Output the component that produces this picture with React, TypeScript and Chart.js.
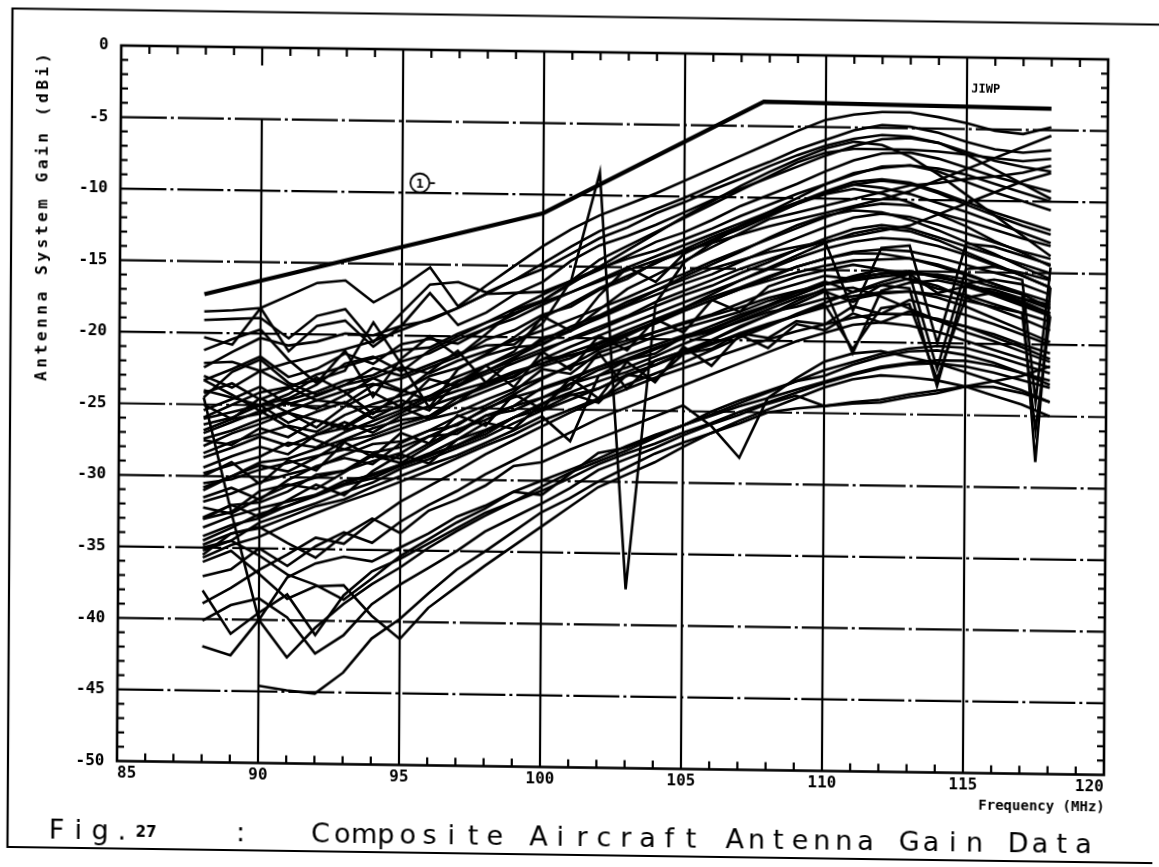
import React, { useEffect, useRef } from "react";
import { Chart, registerables } from "chart.js";

Chart.register(...registerables);

// Frequencies (MHz) of the measured points
const FREQ = [88, 89, 90, 91, 92, 93, 94, 95, 96, 97, 98, 99, 100, 101, 102, 103, 104, 105, 106, 107, 108, 109, 110, 111, 112, 113, 114, 115, 116, 117, 118];
const FREQ_D = [88, 89, 90, 91, 92, 93, 94, 95, 96, 97, 98, 99, 100, 101, 102, 103, 104, 105, 106, 107, 108, 109, 110, 111, 112, 113, 114, 115, 116, 117, 117.5, 118];

// Limit line (1)
const LIMIT_FREQ = [88, 100, 107.8, 118];
const LIMIT_GAIN = [-17.3, -11.3, -3.3, -3.5];

// Tick values
const X_TICKS = [85, 90, 95, 100, 105, 110, 115, 120];
const Y_TICKS = [0, -5, -10, -15, -20, -25, -30, -35, -40, -45, -50];

// Antenna gain curves (dBi)
const a1 = [-18.5, -18.4, -18.2, -17.3, -16.4, -16.2, -17.7, -16.6, -15.2, -17.9, -16.4, -15.0, -13.6, -12.4, -11.4, -10.6, -9.8, -8.9, -8.0, -7.1, -6.2, -5.3, -4.5, -4.1, -3.9, -3.9, -4.2, -4.6, -5.1, -5.3, -4.8];
const a2 = [-19.1, -19.0, -18.9, -20.3, -18.7, -18.2, -20.5, -18.4, -16.4, -16.2, -16.9, -16.0, -14.8, -13.6, -12.5, -11.7, -10.9, -10.1, -9.2, -8.3, -7.5, -6.6, -5.9, -5.2, -4.8, -4.9, -5.3, -5.9, -6.4, -6.6, -6.4];
const a3 = [-20.3, -20.8, -18.2, -21.2, -19.4, -19.0, -20.8, -19.3, -17.0, -19.2, -18.3, -17.0, -16.1, -14.6, -13.5, -12.8, -12.0, -11.1, -10.2, -9.4, -8.6, -7.8, -7.0, -6.3, -5.8, -5.7, -6.0, -6.6, -7.2, -7.6, -7.9];
const a4 = [-21.2, -20.4, -19.7, -21.8, -23.4, -21.1, -24.3, -21.6, -20.0, -21.4, -19.8, -18.1, -17.4, -16.1, -15.2, -14.2, -13.2, -12.5, -11.6, -10.6, -9.8, -9.0, -8.1, -7.3, -6.8, -6.7, -7.1, -7.7, -8.3, -8.8, -9.3];
const a5 = [-22.4, -21.3, -20.3, -20.8, -20.5, -19.9, -20.0, -19.3, -18.9, -18.0, -17.0, -16.9, -16.8, -16.0, -15.1, -14.4, -13.8, -13.0, -12.2, -11.3, -10.5, -9.7, -9.0, -8.3, -7.7, -7.6, -8.0, -8.7, -9.4, -10.0, -10.6];
const a6 = [-22.1, -22.0, -22.6, -23.6, -23.2, -22.5, -19.1, -22.0, -25.0, -22.3, -21.2, -20.0, -18.6, -17.6, -16.5, -15.6, -14.7, -13.7, -12.8, -12.0, -11.2, -10.3, -9.5, -8.8, -8.6, -8.8, -9.4, -10.1, -10.8, -11.4, -12.0];
const a7 = [-23.3, -22.5, -21.6, -23.0, -22.4, -21.3, -22.0, -20.6, -20.2, -20.5, -19.4, -18.7, -17.7, -16.8, -15.9, -15.0, -14.2, -13.4, -12.6, -11.8, -11.0, -10.3, -9.6, -9.0, -9.2, -9.6, -10.2, -10.8, -11.5, -12.2, -12.9];

const b1 = [-24.5, -22.7, -21.8, -23.4, -24.2, -23.5, -22.3, -22.8, -22.0, -21.2, -20.6, -20.5, -19.0, -16.0, -8.4, -37.5, -17.5, -14.6, -13.2, -12.0, -11.2, -10.4, -9.6, -9.0, -8.7, -8.9, -9.5, -10.3, -11.0, -11.7, -12.3];
const b2 = [-25.4, -24.6, -23.7, -24.9, -24.3, -23.5, -23.0, -22.2, -22.6, -21.7, -21.0, -20.2, -19.5, -18.7, -17.9, -17.1, -16.2, -15.4, -14.5, -13.7, -12.9, -12.1, -11.3, -10.6, -10.3, -10.4, -10.9, -11.4, -12.0, -12.6, -13.1];
const b3 = [-25.9, -25.0, -24.1, -23.7, -24.6, -23.9, -23.4, -23.9, -22.8, -22.2, -21.3, -20.7, -20.5, -19.4, -18.6, -17.7, -16.9, -16.1, -15.4, -14.5, -13.6, -12.8, -12.0, -11.3, -11.0, -11.2, -11.7, -12.3, -12.9, -13.5, -14.0];
const b4 = [-26.4, -25.9, -25.0, -26.2, -25.4, -24.7, -25.8, -24.8, -24.2, -23.1, -22.4, -21.6, -20.8, -20.1, -19.4, -18.5, -17.7, -16.9, -16.2, -15.3, -14.5, -13.6, -12.8, -12.1, -11.8, -12.0, -12.6, -13.2, -13.8, -14.4, -15.0];
const b5 = [-23.3, -24.3, -25.4, -26.5, -27.4, -28.0, -28.2, -27.8, -27.0, -26.1, -25.1, -24.0, -22.9, -21.9, -20.8, -19.8, -18.8, -17.8, -16.8, -15.8, -14.9, -14.0, -13.1, -12.4, -12.0, -12.2, -12.8, -13.6, -14.4, -15.2, -16.0];
const b6 = [-27.9, -27.0, -26.3, -25.5, -26.0, -26.6, -26.3, -25.4, -24.4, -23.4, -22.4, -21.4, -20.4, -19.5, -18.5, -17.6, -16.6, -15.6, -14.7, -13.8, -12.8, -11.9, -11.2, -10.8, -10.9, -11.4, -12.1, -12.9, -13.7, -14.6, -15.4];
const b7 = [-27.0, -26.2, -25.4, -24.8, -25.2, -24.2, -23.0, -23.8, -24.5, -23.8, -23.2, -22.4, -21.8, -21.2, -20.7, -20.1, -19.5, -18.9, -18.3, -17.7, -17.0, -16.5, -16.0, -15.5, -15.2, -15.1, -15.3, -15.8, -16.4, -17.1, -17.8];
const b8 = [-24.0, -24.5, -25.0, -24.2, -23.0, -24.0, -25.5, -24.0, -22.5, -21.0, -23.2, -21.5, -20.0, -19.5, -18.0, -16.5, -15.5, -14.5, -13.5, -12.5, -11.5, -11.0, -10.5, -10.0, -9.5, -9.0, -8.8, -8.5, -8.3, -8.0, -7.5];
const b9 = [-26.0, -25.5, -25.0, -24.5, -23.5, -22.0, -21.5, -22.5, -21.0, -20.0, -19.0, -18.0, -17.0, -16.0, -14.5, -13.5, -12.5, -11.5, -10.5, -9.5, -8.5, -7.5, -6.8, -6.5, -6.5, -6.5, -6.6, -6.8, -7.0, -7.2, -7.0];
const b10 = [-25.0, -26.0, -24.5, -25.5, -26.5, -25.0, -24.0, -25.0, -23.0, -23.5, -22.0, -21.0, -18.5, -19.5, -17.0, -15.0, -16.0, -14.0, -13.0, -12.0, -11.0, -10.0, -9.0, -8.2, -7.8, -7.6, -7.8, -8.2, -8.8, -9.4, -10.0];
const b11 = [-23.0, -23.8, -22.6, -22.0, -21.5, -21.0, -20.4, -19.6, -18.8, -18.0, -17.0, -16.0, -15.2, -14.1, -13.0, -12.2, -11.2, -10.4, -9.5, -8.7, -7.8, -7.0, -6.3, -5.8, -5.5, -5.6, -6.0, -6.8, -7.8, -8.8, -9.8];
const b12 = [-27.4, -26.8, -26.0, -25.4, -24.6, -24.8, -23.5, -23.0, -22.2, -21.4, -20.2, -19.5, -18.4, -17.8, -16.6, -15.8, -14.6, -13.9, -13.0, -12.2, -11.3, -10.4, -9.7, -9.3, -9.6, -10.2, -11.0, -11.8, -12.8, -13.6, -14.5];
const b13 = [-24.2, -23.5, -24.6, -23.8, -22.8, -22.2, -21.6, -21.0, -20.8, -19.8, -19.0, -18.3, -17.5, -16.8, -16.0, -15.2, -14.5, -13.8, -13.2, -12.6, -12.0, -11.5, -11.0, -10.5, -10.0, -9.4, -8.6, -7.8, -7.0, -6.2, -5.4];
const b14 = [-26.8, -26.0, -25.6, -24.6, -24.0, -23.2, -22.8, -21.8, -21.2, -20.2, -19.4, -18.4, -17.4, -16.2, -15.0, -13.8, -12.6, -11.4, -10.3, -9.2, -8.2, -7.3, -6.5, -6.0, -6.2, -7.0, -8.2, -9.6, -11.0, -12.4, -13.8];
const b15 = [-28.4, -27.6, -27.0, -26.4, -26.8, -25.6, -24.8, -24.2, -23.6, -22.8, -22.0, -21.2, -20.2, -19.2, -18.4, -17.4, -16.6, -15.8, -15.0, -14.4, -13.8, -13.4, -13.0, -12.6, -12.2, -11.8, -11.0, -10.2, -9.4, -8.6, -8.0];

const c1 = [-28.7, -28.0, -27.2, -27.8, -27.0, -26.1, -26.8, -25.6, -24.9, -24.2, -23.4, -22.5, -21.8, -21.0, -20.3, -19.4, -18.6, -17.8, -17.0, -16.3, -15.5, -14.8, -14.2, -13.8, -13.8, -14.1, -14.6, -15.2, -15.8, -16.4, -17.0];
const c2 = [-30.8, -30.0, -29.0, -28.7, -28.0, -27.3, -26.5, -25.9, -25.6, -24.3, -23.5, -22.7, -21.5, -21.2, -20.6, -19.7, -18.9, -18.0, -17.2, -16.4, -15.8, -15.2, -14.7, -14.3, -14.2, -14.1, -14.5, -15.1, -15.8, -16.5, -17.4];
const c3 = [-31.8, -31.2, -30.4, -29.8, -29.3, -28.4, -27.6, -27.4, -26.6, -25.6, -24.8, -23.8, -22.2, -22.5, -21.0, -20.3, -19.5, -18.8, -18.2, -17.4, -16.6, -16.0, -15.4, -15.6, -15.2, -15.0, -15.4, -15.8, -16.4, -17.0, -17.8];
const c4 = [-32.2, -32.6, -31.5, -30.6, -30.0, -29.5, -28.3, -28.6, -27.5, -26.5, -25.8, -24.8, -23.5, -22.8, -22.0, -21.1, -20.4, -19.7, -19.3, -18.4, -17.5, -16.6, -15.8, -16.5, -15.8, -15.2, -16.5, -16.0, -16.2, -16.8, -17.5];
const c5 = [-32.9, -32.0, -31.8, -31.0, -29.8, -29.5, -28.8, -28.2, -27.0, -26.8, -25.5, -25.1, -24.2, -23.5, -21.0, -23.5, -21.5, -20.8, -20.0, -19.0, -18.2, -17.4, -16.5, -17.2, -16.0, -15.5, -16.0, -16.8, -17.5, -18.2, -19.0];
const c6 = [-33.6, -32.8, -32.2, -31.7, -31.2, -30.4, -29.7, -29.0, -28.3, -27.6, -26.6, -25.6, -25.0, -24.0, -23.5, -22.5, -21.8, -21.0, -20.3, -19.5, -18.8, -18.2, -17.6, -17.0, -16.6, -16.4, -16.8, -17.4, -18.2, -19.0, -19.8];
const c7 = [-34.2, -33.4, -32.9, -32.0, -31.3, -30.5, -30.0, -29.1, -28.4, -27.6, -26.8, -25.6, -24.7, -23.2, -22.6, -21.5, -21.0, -19.8, -19.0, -18.2, -17.5, -16.8, -16.0, -15.5, -15.2, -15.0, -15.3, -15.8, -16.5, -17.2, -18.0];
const c8 = [-35.2, -34.5, -33.2, -32.5, -31.8, -31.0, -30.3, -29.3, -28.6, -27.8, -27.0, -26.0, -25.1, -24.3, -23.5, -22.6, -21.8, -20.9, -20.0, -19.1, -18.2, -17.2, -16.3, -20.8, -16.4, -15.8, -15.6, -16.0, -16.6, -17.3, -18.0];
const c9 = [-35.7, -34.8, -34.2, -33.3, -32.5, -31.7, -31.0, -30.2, -29.4, -28.5, -27.6, -26.8, -25.8, -25.0, -24.2, -23.2, -22.4, -21.6, -20.7, -19.8, -19.0, -18.1, -17.3, -16.5, -16.0, -16.2, -23.0, -15.8, -15.5, -15.8, -16.5];
const c10 = [-33.0, -32.5, -31.0, -30.5, -30.8, -29.6, -28.4, -28.9, -27.7, -26.6, -25.5, -24.8, -24.2, -23.2, -22.2, -21.5, -20.7, -19.9, -19.2, -18.4, -17.6, -16.8, -16.0, -15.4, -14.9, -15.2, -21.8, -14.8, -14.6, -15.0, -15.5];
const c11 = [-30.5, -30.2, -29.5, -29.0, -28.5, -28.0, -27.2, -26.5, -25.8, -25.3, -24.4, -23.6, -22.8, -22.0, -21.3, -20.6, -19.8, -19.2, -18.6, -18.0, -17.2, -16.6, -16.0, -15.7, -15.4, -15.2, -15.2, -15.5, -16.0, -16.5, -28.2, -16.0];
const c12 = [-31.5, -30.8, -31.6, -30.2, -29.2, -28.6, -29.0, -27.5, -26.6, -26.2, -25.0, -24.2, -23.6, -22.9, -22.0, -21.4, -20.6, -19.9, -19.4, -18.7, -18.0, -17.6, -17.0, -16.8, -16.5, -16.4, -16.6, -17.0, -17.4, -17.8, -26.0, -18.0];
const c13 = [-34.5, -33.6, -32.6, -32.0, -31.2, -30.2, -29.8, -29.0, -28.2, -27.2, -26.5, -25.6, -24.6, -23.8, -23.0, -22.3, -21.5, -20.8, -20.2, -19.6, -18.9, -18.2, -17.4, -20.5, -17.6, -17.3, -22.5, -16.8, -16.4, -16.8, -17.2];
const c14 = [-29.4, -28.6, -27.9, -28.4, -27.0, -26.5, -25.4, -25.0, -25.8, -24.6, -23.2, -22.8, -21.5, -20.6, -19.8, -19.0, -18.2, -17.4, -16.6, -15.8, -15.0, -14.2, -13.5, -13.0, -12.7, -12.8, -13.2, -13.8, -14.5, -15.2, -16.0];
const c15 = [-33.0, -32.0, -32.8, -31.6, -30.5, -31.2, -29.5, -28.3, -28.9, -27.2, -26.0, -26.4, -24.6, -23.9, -24.5, -22.5, -22.8, -21.0, -20.6, -19.5, -19.8, -18.6, -18.8, -17.5, -18.0, -17.0, -17.5, -18.0, -18.6, -19.3, -20.0];
const c16 = [-31.0, -30.0, -29.2, -29.6, -28.6, -27.4, -27.0, -26.2, -25.6, -24.6, -23.8, -23.0, -22.0, -21.4, -20.4, -19.6, -18.8, -18.0, -17.2, -16.4, -15.6, -14.8, -14.2, -13.7, -13.5, -13.6, -14.0, -14.5, -15.0, -15.5, -24.0, -14.6];
const c17 = [-29.8, -29.2, -28.6, -27.6, -27.9, -26.8, -26.0, -25.2, -24.2, -23.5, -22.6, -21.8, -21.0, -20.0, -19.2, -18.4, -17.4, -16.6, -15.8, -15.0, -14.3, -13.6, -13.0, -17.8, -13.4, -13.2, -20.0, -13.0, -13.2, -13.8, -14.4];
const c18 = [-30.0, -29.0, -30.5, -28.8, -29.5, -27.5, -28.5, -26.8, -27.5, -25.5, -26.2, -24.0, -25.0, -22.8, -24.2, -21.6, -23.0, -20.5, -21.8, -19.6, -20.5, -18.8, -19.2, -18.0, -18.6, -17.8, -18.4, -18.8, -19.5, -20.2, -21.0];
const c19 = [-27.5, -27.8, -26.6, -27.2, -26.0, -26.4, -25.2, -24.5, -25.2, -23.2, -22.0, -23.5, -21.0, -22.2, -19.8, -20.8, -18.6, -19.5, -17.2, -18.0, -16.2, -15.5, -15.0, -14.6, -14.9, -15.6, -16.2, -16.6, -17.2, -17.8, -18.4];
const c20 = [-34.8, -34.0, -33.6, -32.8, -32.0, -31.5, -30.6, -29.8, -29.0, -28.3, -27.4, -26.5, -25.5, -27.2, -22.6, -22.0, -21.2, -20.3, -19.5, -18.6, -17.8, -17.0, -16.4, -16.2, -16.8, -17.6, -18.4, -19.2, -19.8, -20.5, -21.2];

const d1 = [-24.5, -32.5, -40.0, -42.6, -40.5, -38.8, -37.4, -36.2, -34.8, -33.6, -32.5, -31.5, -30.4, -29.4, -28.6, -27.8, -26.9, -26.0, -25.2, -24.4, -23.6, -22.8, -22.0, -21.4, -20.8, -20.4, -20.2, -20.3, -20.8, -21.4, -22.0];
const d2 = [-38.0, -41.0, -39.5, -38.2, -41.0, -38.2, -36.5, -35.6, -34.5, -33.4, -32.3, -31.5, -30.7, -29.8, -28.8, -28.0, -27.3, -26.5, -25.8, -25.0, -24.3, -23.6, -22.9, -22.3, -21.8, -21.5, -21.4, -21.6, -22.0, -22.5, -23.0];
const d3 = [-41.9, -42.5, -40.0, -37.0, -36.0, -35.5, -35.8, -34.8, -33.8, -32.6, -31.8, -30.8, -30.0, -29.2, -28.4, -27.5, -26.7, -26.0, -25.3, -24.6, -24.0, -23.4, -22.8, -22.2, -21.7, -21.4, -21.2, -21.2, -21.5, -22.0, -22.5];
const d4 = [null, null, -44.6, -44.9, -45.1, -43.6, -41.2, -39.8, -38.0, -36.3, -35.0, -33.6, -32.2, -31.2, -30.0, -29.0, -28.0, -27.2, -26.5, -25.8, -25.0, -24.7, -24.5, -24.3, -24.2, -23.8, -23.5, -23.0, -22.6, -22.2, -21.5];
const d5 = [-40.1, -39.0, -38.5, -39.8, -42.3, -41.0, -38.8, -37.4, -36.2, -35.0, -33.6, -32.6, -31.6, -30.5, -29.2, -28.4, -27.6, -26.7, -25.9, -25.2, -24.4, -23.8, -24.5, -24.2, -24.0, -23.6, -23.3, -23.0, -23.0, -23.4, -24.0];
const d6 = [-36.0, -35.2, -36.8, -38.5, -37.6, -37.5, -39.6, -41.2, -39.0, -37.5, -36.0, -34.6, -33.2, -31.8, -30.4, -29.5, -28.6, -27.5, -26.5, -25.6, -24.8, -24.0, -23.2, -22.6, -22.3, -22.4, -22.6, -23.0, -23.6, -24.2, -25.0];
const d7 = [-35.0, -34.5, -35.5, -36.8, -37.5, -38.5, -37.0, -35.4, -34.2, -33.0, -32.0, -30.8, -31.0, -29.5, -28.0, -27.6, -26.8, -26.0, -25.0, -24.2, -23.5, -22.8, -22.4, -21.6, -21.0, -20.6, -20.5, -20.8, -21.3, -22.0, -22.8];
const d8 = [-37.0, -36.5, -35.0, -36.2, -34.8, -33.8, -34.5, -33.0, -31.8, -30.8, -29.6, -28.6, -27.6, -26.6, -25.6, -24.8, -24.0, -23.2, -22.4, -21.6, -20.8, -20.0, -19.4, -18.8, -18.6, -18.8, -19.2, -19.8, -20.4, -21.0, -21.6];
const d9 = [-38.9, -37.8, -36.5, -35.4, -34.2, -34.6, -33.0, -31.6, -30.5, -29.4, -28.2, -27.2, -26.2, -25.2, -24.3, -23.5, -22.7, -22.0, -21.3, -20.6, -19.9, -19.3, -18.8, -18.3, -18.0, -18.0, -18.3, -18.8, -19.3, -20.0, -20.6];
const d10 = [-35.5, -34.0, -33.5, -34.6, -35.6, -34.0, -32.8, -33.8, -32.2, -31.4, -30.4, -29.0, -28.7, -27.8, -27.0, -26.2, -25.4, -24.6, -26.0, -28.2, -24.0, -22.6, -21.4, -20.8, -20.6, -21.0, -21.4, -22.0, -22.6, -23.2, -24.0];

const CURVES: (number | null)[][] = [a1, a2, a3, a4, a5, a6, a7, b1, b2, b3, b4, b5, b6, b7, b8, b9, b10, b11, b12, b13, b14, b15, c1, c2, c3, c4, c5, c6, c7, c8, c9, c10, c13, c14, c15, c17, c18, c19, c20, d1, d2, d3, d4, d5, d6, d7, d8, d9, d10];
const DIP_CURVES: (number | null)[][] = [c11, c12, c16];

const MONO = "'DejaVu Sans Mono', 'Liberation Mono', monospace";
const SANS = "'DejaVu Sans', 'Liberation Sans', sans-serif";

function spacedText(ctx: CanvasRenderingContext2D, text: string, x0: number, y: number, pitch: number) {
  for (let i = 0; i < text.length; i++) {
    ctx.fillText(text[i], x0 + i * pitch, y);
  }
}

const decor = {
  id: "decor",
  beforeDatasetsDraw(chart: any) {
    const { ctx, chartArea: a, scales } = chart;
    const x = scales.x;
    const y = scales.y;
    ctx.save();
    ctx.strokeStyle = "#000";
    ctx.lineCap = "butt";
    const seg = (x1: number, y1: number, x2: number, y2: number) => {
      ctx.beginPath();
      ctx.moveTo(x1, y1);
      ctx.lineTo(x2, y2);
      ctx.stroke();
    };
    // horizontal grid (dash-dot)
    ctx.lineWidth = 2.2;
    ctx.setLineDash([46, 4, 3, 4]);
    for (const v of Y_TICKS) {
      if (v === 0 || v === -50) continue;
      const py = y.getPixelForValue(v);
      seg(a.left, py, a.right, py);
    }
    ctx.setLineDash([]);
    // vertical grid
    for (const v of X_TICKS) {
      if (v === 85 || v === 120) continue;
      const px = x.getPixelForValue(v);
      const top = v === 90 ? y.getPixelForValue(-5) : a.top;
      seg(px, top, px, a.bottom);
    }
    // minor ticks
    ctx.lineWidth = 2.2;
    for (let v = -49; v <= -1; v++) {
      if (v % 5 === 0) continue;
      const py = y.getPixelForValue(v);
      seg(a.left, py, a.left + 7, py);
      seg(a.right - 7, py, a.right, py);
    }
    for (let v = 86; v <= 119; v++) {
      if (v % 5 === 0) continue;
      const px = x.getPixelForValue(v);
      seg(px, a.top, px, a.top + 8);
      seg(px, a.bottom - 8, px, a.bottom);
    }
    const p90 = x.getPixelForValue(90);
    seg(p90, a.top, p90, a.top + 18);
    // axes box
    ctx.lineWidth = 2.6;
    ctx.strokeRect(a.left, a.top, a.right - a.left, a.bottom - a.top);
    ctx.restore();
  },
  afterDraw(chart: any) {
    const { ctx, chartArea: a, scales } = chart;
    const x = scales.x;
    const y = scales.y;
    ctx.save();
    ctx.fillStyle = "#000";
    ctx.strokeStyle = "#000";

    // outer frame
    ctx.lineWidth = 2.2;
    ctx.beginPath();
    ctx.moveTo(1165, 16.5);
    ctx.lineTo(10, 16.5);
    ctx.lineTo(10, 855);
    ctx.lineTo(1155, 855);
    ctx.stroke();

    // y-axis title
    ctx.save();
    ctx.translate(42, 223);
    ctx.rotate(-Math.PI / 2);
    ctx.font = `bold 16px ${MONO}`;
    ctx.textAlign = "center";
    ctx.textBaseline = "middle";
    (ctx as any).letterSpacing = "3.6px";
    ctx.fillText("Antenna System Gain (dBi)", 0, 0);
    ctx.restore();

    // x-axis title
    ctx.font = `bold 14px ${MONO}`;
    ctx.textAlign = "right";
    ctx.textBaseline = "middle";
    ctx.fillText("Frequency (MHz)", a.right + 1, 800);

    // circled 1 label
    const cx = x.getPixelForValue(95.62);
    const cy = y.getPixelForValue(-9.31);
    ctx.lineWidth = 1.8;
    ctx.beginPath();
    ctx.arc(cx, cy, 9.5, 0, Math.PI * 2);
    ctx.stroke();
    ctx.font = `bold 13px ${MONO}`;
    ctx.textAlign = "center";
    ctx.fillText("1", cx, cy + 1);
    ctx.beginPath();
    ctx.moveTo(cx + 10, cy);
    ctx.lineTo(cx + 15, cy);
    ctx.stroke();

    // JIWP label
    ctx.font = `bold 12px ${MONO}`;
    ctx.textAlign = "left";
    ctx.textBaseline = "alphabetic";
    ctx.fillText("JIWP", x.getPixelForValue(115.15), y.getPixelForValue(-2.45));

    // caption
    ctx.font = `27px ${SANS}`;
    ctx.textAlign = "center";
    ctx.textBaseline = "alphabetic";
    spacedText(ctx, "Fig.", 59, 846, 21.8);
    spacedText(ctx, ":", 243, 846, 21.8);
    spacedText(ctx, "Composite Aircraft Antenna Gain Data", 323, 846, 21.8);
    ctx.font = `bold 15px ${SANS}`;
    ctx.textAlign = "left";
    ctx.fillText("27", 138, 843);
    ctx.restore();
  },
};

export default function App() {
  const ref = useRef<HTMLCanvasElement | null>(null);
  useEffect(() => {
    if (!ref.current) return;
    const datasets: any[] = [];
    datasets.push({
      data: LIMIT_FREQ.map((f, i) => ({ x: f, y: LIMIT_GAIN[i] })),
      borderColor: "#000",
      borderWidth: 4.2,
      pointRadius: 0,
      tension: 0,
    });
    for (const c of CURVES) {
      datasets.push({
        data: FREQ.map((f, i) => ({ x: f, y: c[i] })),
        borderColor: "#000",
        borderWidth: 2.6,
        pointRadius: 0,
        tension: 0,
        spanGaps: true,
      });
    }
    for (const c of DIP_CURVES) {
      datasets.push({
        data: FREQ_D.map((f, i) => ({ x: f, y: c[i] })),
        borderColor: "#000",
        borderWidth: 2.6,
        pointRadius: 0,
        tension: 0,
        spanGaps: true,
      });
    }
    const chart = new Chart(ref.current, {
      type: "line",
      data: { datasets },
      plugins: [decor],
      options: {
        animation: false,
        responsive: false,
        devicePixelRatio: 1,
        layout: { padding: { left: 0, right: 53, top: 52, bottom: 0 } },
        plugins: { legend: { display: false }, tooltip: { enabled: false }, title: { display: false } },
        scales: {
          x: {
            type: "linear",
            min: 85,
            max: 120,
            afterFit: (s: any) => {
              s.height = 99.5;
            },
            afterBuildTicks: (s: any) => {
              s.ticks = X_TICKS.map((v) => ({ value: v }));
            },
            grid: { display: false, drawTicks: false },
            border: { display: false },
            ticks: {
              align: "inner",
              padding: 3,
              maxRotation: 0,
              color: "#000",
              font: { family: MONO, size: 16, weight: "bold" },
            },
          },
          y: {
            type: "linear",
            min: -50,
            max: 0,
            afterFit: (s: any) => {
              s.width = 119;
            },
            afterBuildTicks: (s: any) => {
              s.ticks = Y_TICKS.map((v) => ({ value: v }));
            },
            grid: { display: false, drawTicks: false },
            border: { display: false },
            ticks: {
              padding: 12.5,
              color: "#000",
              font: { family: MONO, size: 16, weight: "bold" },
            },
          },
        },
      },
    });
    return () => chart.destroy();
  }, []);

  return (
    <div
      style={{
        position: "absolute",
        left: 0,
        top: 0,
        width: 1159,
        height: 867,
        background: "#fff",
        transform: "matrix(1, 0.0141, -0.006, 1, 0, 0)",
        transformOrigin: "579.5px 433.5px",
      }}
    >
      <canvas ref={ref} width={1159} height={867} style={{ display: "block" }} />
    </div>
  );
}
